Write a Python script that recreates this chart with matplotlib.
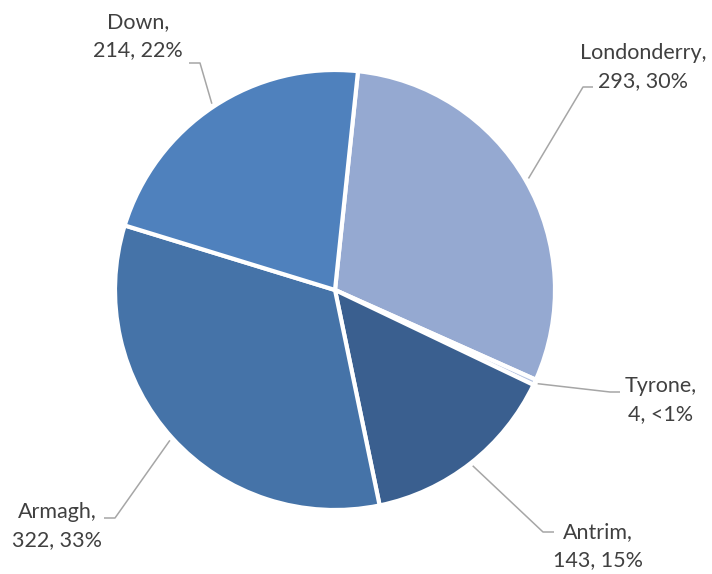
import numpy as np
import matplotlib.pyplot as plt

# county counts, in drawing order (clockwise from the top)
counties = ['Londonderry', 'Tyrone', 'Antrim', 'Armagh', 'Down']
counts = [293, 4, 143, 322, 214]
pct_labels = ['30%', '<1%', '15%', '33%', '22%']
colors = ['#95A9D1', '#B7C5E2', '#3A5F8F', '#4573A8', '#4F81BD']

W, H = 712, 574
cx, cy, R = 335, H - 290, 220
start = 84

# label block centres and leader elbows, in pixels from the top left
label_pos = {
    'Londonderry': (643, 67, (583, 87), (593, 87)),
    'Tyrone': (661, 400, (610, 392), (620, 392)),
    'Antrim': (598, 546, (543, 532), (554, 532)),
    'Armagh': (57, 526, (115, 518), (104, 518)),
    'Down': (138, 36, (200, 63), (189, 63)),
}

fig = plt.figure(figsize=(W / 100, H / 100), dpi=100)
ax = fig.add_axes([0, 0, 1, 1])

wedges, _ = ax.pie(counts, colors=colors, startangle=start, counterclock=False,
                   center=(cx, cy), radius=R,
                   wedgeprops=dict(edgecolor='white', linewidth=3))

# pie() resets the limits around its centre, so put the pixel frame back
ax.set_xlim(0, W)
ax.set_ylim(0, H)
ax.set_aspect('equal')
ax.axis('off')

total = float(sum(counts))
cum = 0
for name, n, pct in zip(counties, counts, pct_labels):
    mid = start - 360 * (cum + n / 2) / total
    cum += n
    ax_x = cx + 1.015 * R * np.cos(np.radians(mid))
    ax_y = cy + 1.015 * R * np.sin(np.radians(mid))
    tx, ty, elbow, end = label_pos[name]
    ax.plot([ax_x, elbow[0], end[0]], [ax_y, H - elbow[1], H - end[1]],
            color='#A6A6A6', lw=1.1, solid_capstyle='butt')
    ax.text(tx, H - ty, f'{name},\n{n}, {pct}', ha='center', va='center',
            multialignment='center', fontsize=15.5, family='Lato',
            color='#404040', linespacing=1.5)

fig.savefig('out.png', dpi=100)
